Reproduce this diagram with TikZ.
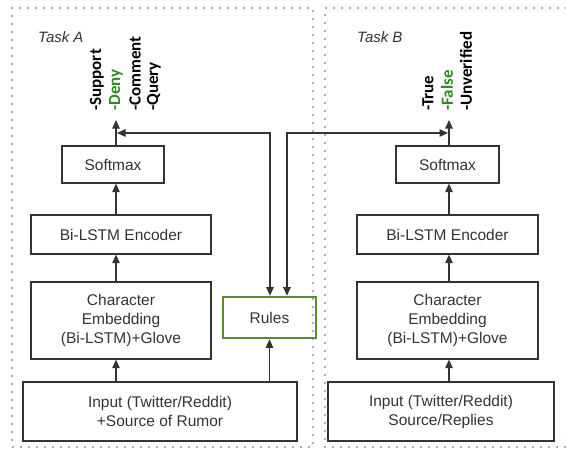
\documentclass[tikz,border=0pt]{standalone}
\usepackage{fontspec}
\setmainfont{Liberation Sans}
\newfontfamily\labfont{Carlito}
\usetikzlibrary{arrows.meta,positioning}
\definecolor{dotblue}{HTML}{6F98D0}
\definecolor{rulegreen}{HTML}{5F8A30}
\definecolor{labgreen}{HTML}{2E8B22}
\definecolor{ink}{HTML}{333333}

\begin{document}
\begin{tikzpicture}[
  x=1pt, y=-1pt,
  box/.style={rectangle, draw=ink, line width=1.3pt, align=center, text=ink,
    inner sep=0pt, font=\fontsize{15.5}{19}\selectfont},
  inbox/.style={box, line width=2pt},
  panel/.style={dotblue, line width=2.2pt, line cap=round, dash pattern=on 0pt off 8pt},
  lab/.style={rotate=90, anchor=west, inner sep=0pt, font=\labfont\bfseries\fontsize{17}{19}\selectfont},
  task/.style={anchor=base west, inner sep=0pt, text=ink, font=\itshape\fontsize{15}{18}\selectfont},
  arr/.style={-{Triangle[length=8.5pt,width=7.5pt]}, line width=1.1pt, draw=ink},
  dbl/.style={{Triangle[length=8.5pt,width=7.5pt]}-{Triangle[length=8.5pt,width=7.5pt]}, line width=1.1pt, draw=ink}
]
\useasboundingbox (0,0) rectangle (566,450);

% panels
\draw[panel] (12,8) rectangle (313,447);
\draw[panel] (566,8) -- (325,8) -- (325,447) -- (566,447);
\node[task] (taskA) at (38,42) {Task A};
\node[task] (taskB) at (357,42) {Task B};

% task A
\node[inbox, minimum width=274pt, minimum height=59pt] (inA) at (160,411.5) {Input (Twitter/Reddit)\\+Source of Rumor};
\node[box, minimum width=180pt, minimum height=77pt] (chrA) at (121,320.5) {Character\\Embedding\\(Bi-LSTM)+Glove};
\node[box, minimum width=180pt, minimum height=39pt] (encA) at (121,234.5) {Bi-LSTM Encoder};
\node[box, minimum width=102pt, minimum height=37pt] (softA) at (113,164.5) {Softmax};
\coordinate (outA) at (116,120);
\coordinate (tA) at (117,133);
\node[lab] (support) at (97,111) {-Support};
\node[lab, text=labgreen] (deny) at (116,111) {-Deny};
\node[lab] (comment) at (135,111) {-Comment};
\node[lab] (query) at (154,111) {-Query};

% rules
\node[box, draw=rulegreen, line width=2.6pt, minimum width=93pt, minimum height=41pt] (rules) at (269.5,317.5) {Rules};

% task B
\node[inbox, minimum width=226pt, minimum height=59pt] (inB) at (441,411.5) {Input (Twitter/Reddit)\\Source/Replies};
\node[box, minimum width=181pt, minimum height=77pt] (chrB) at (447.5,320.5) {Character\\Embedding\\(Bi-LSTM)+Glove};
\node[box, minimum width=181pt, minimum height=39pt] (encB) at (447.5,234.5) {Bi-LSTM Encoder};
\node[box, minimum width=103pt, minimum height=37pt] (softB) at (447.5,164.5) {Softmax};
\coordinate (outB) at (449,120);
\coordinate (tB) at (448,133);
\node[lab] (true) at (428,111) {-True};
\node[lab, text=labgreen] (false) at (447,111) {-False};
\node[lab] (unver) at (466,111) {-Unverified};

% arrows
\draw[arr] (inA.north -| outA) -- (chrA.south -| outA);
\draw[arr] (chrA.north -| outA) -- (encA.south -| outA);
\draw[arr] (encA.north -| outA) -- (softA.south -| outA);
\draw[arr] (softA.north -| outA) -- (outA);
\draw[arr] (inB.north -| outB) -- (chrB.south -| outB);
\draw[arr] (chrB.north -| outB) -- (encB.south -| outB);
\draw[arr] (encB.north -| outB) -- (softB.south -| outB);
\draw[arr] (softB.north -| outB) -- (outB);
\draw[arr] (rules.south |- inA.north) -- (rules.south);
\draw[dbl] (tA) -| ([xshift=0.5pt]rules.north);
\draw[dbl] (tB) -| ([xshift=17.5pt]rules.north);
\end{tikzpicture}
\end{document}
